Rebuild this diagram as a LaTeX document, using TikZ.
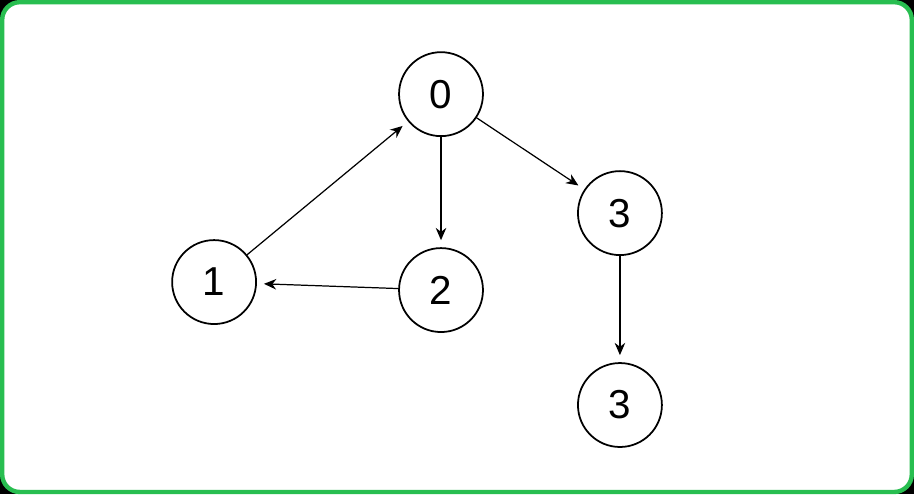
\documentclass[tikz,border=0pt]{standalone}
\usepackage{fontspec}
\setmainfont{Liberation Sans}
\usepackage{tikz}
\usetikzlibrary{positioning,arrows.meta}
\tikzstyle{vertex}=[circle, draw=black, line width=1pt, fill=white, minimum size=1.68cm, inner sep=0pt, font=\fontsize{23}{23}\selectfont]
\tikzstyle{link}=[-{Stealth[length=7pt,width=6pt]}, black, line width=0.7pt, shorten >=4pt]
\begin{document}
\begin{tikzpicture}[x=0.02cm,y=0.02cm]
        % frame
        \fill [black] (0,0) rectangle (914,494);
        \draw [fill=white, draw={rgb,255:red,40;green,190;blue,80}, line width=2.5pt, rounded corners=10pt] (2,2) rectangle (912,492);

        % vertices
        \node [style=vertex] (v0) at (441,400) {0};
        \node [style=vertex] (v3a) at (620,281) {3};
        \node [style=vertex] (v1) at (214,212) {1};
        \node [style=vertex] (v2) at (441,204) {2};
        \node [style=vertex] (v3b) at (620,89) {3};

        % edges
        \draw [style=link] (v1) -- (v0);
        \draw [style=link] (v0) -- (v2);
        \draw [style=link] (v2) -- (v1);
        \draw [style=link] (v0) -- (v3a);
        \draw [style=link] (v3a) -- (v3b);
    \end{tikzpicture}
\end{document}
